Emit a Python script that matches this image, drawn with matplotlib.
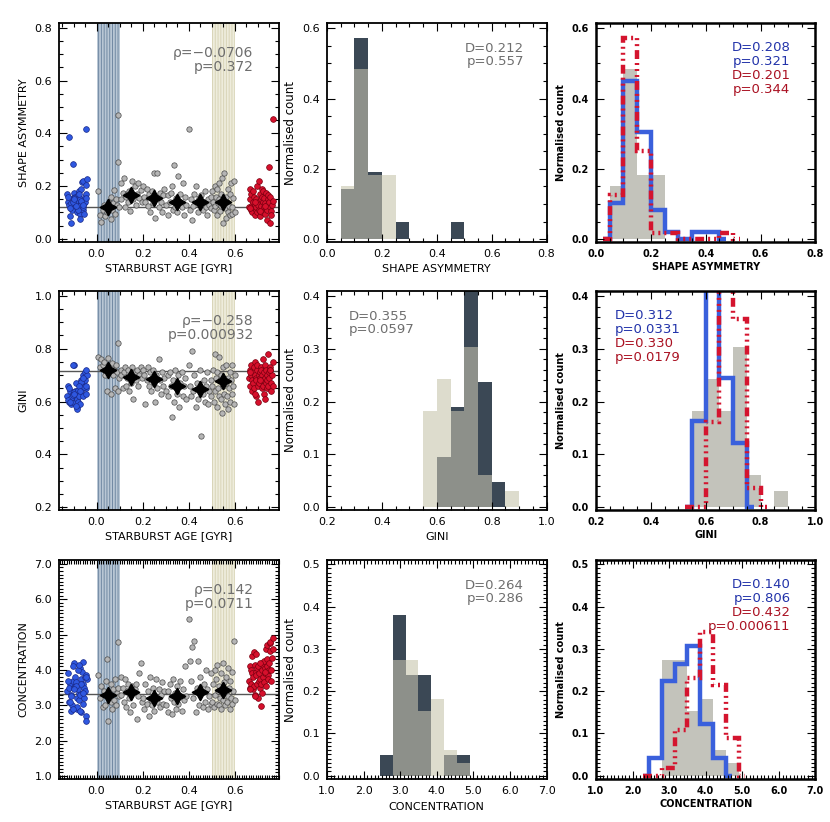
import numpy as np
import matplotlib.pyplot as plt
from matplotlib.ticker import MultipleLocator, FormatStrFormatter

plt.rcParams['font.family'] = 'DejaVu Sans'
plt.rcParams['hatch.linewidth'] = 0.7

# ---------------- scatter data (left column) ----------------
grey_age = [0.008, 0.016, 0.021, 0.027, 0.031, 0.036, 0.041, 0.044, 0.049, 0.056, 0.061,
            0.064, 0.069, 0.073, 0.077, 0.081, 0.084, 0.088, 0.091, 0.094, 0.097,
            0.104, 0.108, 0.113, 0.118, 0.122, 0.127, 0.131, 0.136, 0.141, 0.146,
            0.151, 0.155, 0.160, 0.166, 0.171, 0.176, 0.181, 0.186, 0.191, 0.196,
            0.203, 0.208, 0.212, 0.217, 0.222, 0.226, 0.231, 0.236, 0.241, 0.246,
            0.251, 0.255, 0.260, 0.264, 0.269, 0.274, 0.279, 0.284, 0.289, 0.294,
            0.303, 0.308, 0.312, 0.317, 0.322, 0.326, 0.331, 0.336, 0.341, 0.346,
            0.351, 0.355, 0.360, 0.364, 0.369, 0.374, 0.379, 0.384, 0.389, 0.400,
            0.405, 0.410, 0.415, 0.420, 0.425, 0.430, 0.435, 0.440, 0.445, 0.450,
            0.455, 0.460, 0.465, 0.470, 0.475, 0.480, 0.485, 0.490, 0.495, 0.498,
            0.503, 0.506, 0.509, 0.512, 0.515, 0.518, 0.521, 0.524, 0.527, 0.530, 0.533,
            0.536, 0.539, 0.542, 0.545, 0.548, 0.551, 0.554, 0.557, 0.560, 0.563, 0.566,
            0.569, 0.572, 0.575, 0.578, 0.581, 0.584, 0.587, 0.590, 0.593, 0.596, 0.599]
grey_asym = [0.18, 0.09, 0.065, 0.11, 0.13, 0.085, 0.12, 0.10, 0.125, 0.14, 0.075,
             0.16, 0.11, 0.135, 0.185, 0.095, 0.15, 0.13, 0.29, 0.47, 0.12,
             0.21, 0.15, 0.175, 0.23, 0.12, 0.16, 0.17, 0.14, 0.18, 0.105,
             0.165, 0.22, 0.15, 0.20, 0.13, 0.17, 0.21, 0.155, 0.185, 0.14,
             0.20, 0.16, 0.14, 0.19, 0.125, 0.17, 0.10, 0.155, 0.18, 0.135,
             0.25, 0.08, 0.16, 0.25, 0.12, 0.175, 0.14, 0.10, 0.165, 0.19,
             0.13, 0.165, 0.09, 0.14, 0.175, 0.20, 0.11, 0.28, 0.12, 0.155,
             0.10, 0.24, 0.145, 0.17, 0.12, 0.21, 0.09, 0.16, 0.13, 0.415,
             0.11, 0.15, 0.07, 0.125, 0.17, 0.20, 0.14, 0.10, 0.155, 0.13,
             0.165, 0.11, 0.14, 0.18, 0.12, 0.09, 0.15, 0.13, 0.16, 0.115,
             0.18, 0.14, 0.11, 0.20, 0.125, 0.16, 0.09, 0.19, 0.135, 0.21, 0.15,
             0.105, 0.17, 0.125, 0.23, 0.14, 0.06, 0.25, 0.115, 0.16, 0.08, 0.14,
             0.10, 0.19, 0.125, 0.09, 0.17, 0.21, 0.12, 0.095, 0.155, 0.22, 0.10]
grey_gini = [0.77, 0.73, 0.76, 0.74, 0.75, 0.70, 0.72, 0.64, 0.765, 0.71, 0.73,
             0.63, 0.745, 0.70, 0.72, 0.65, 0.74, 0.71, 0.64, 0.82, 0.69,
             0.72, 0.70, 0.65, 0.71, 0.73, 0.66, 0.69, 0.72, 0.64, 0.70,
             0.67, 0.73, 0.61, 0.71, 0.68, 0.72, 0.66, 0.70, 0.73, 0.69,
             0.72, 0.70, 0.59, 0.68, 0.73, 0.66, 0.71, 0.64, 0.69, 0.72,
             0.67, 0.60, 0.70, 0.65, 0.76, 0.68, 0.63, 0.71, 0.66, 0.69,
             0.64, 0.70, 0.62, 0.71, 0.66, 0.54, 0.68, 0.60, 0.72, 0.65,
             0.63, 0.70, 0.58, 0.67, 0.71, 0.62, 0.66, 0.69, 0.61, 0.74,
             0.66, 0.62, 0.79, 0.64, 0.70, 0.58, 0.67, 0.61, 0.65, 0.72,
             0.47, 0.63, 0.68, 0.60, 0.66, 0.71, 0.59, 0.64, 0.62, 0.68,
             0.66, 0.72, 0.60, 0.78, 0.64, 0.69, 0.58, 0.71, 0.65, 0.62, 0.77,
             0.68, 0.61, 0.70, 0.555, 0.66, 0.73, 0.63, 0.59, 0.67, 0.74, 0.62,
             0.69, 0.57, 0.65, 0.71, 0.60, 0.68, 0.74, 0.63, 0.66, 0.59, 0.70]
grey_conc = [3.85, 3.2, 3.55, 2.95, 3.4, 3.0, 3.7, 4.3, 2.55, 3.3, 3.1,
             3.6, 2.9, 3.45, 3.15, 3.75, 3.0, 3.35, 3.5, 4.8, 3.25,
             3.8, 3.3, 3.5, 3.1, 3.75, 2.95, 3.4, 3.6, 3.2, 2.8,
             3.35, 3.55, 3.0, 3.45, 3.6, 2.6, 3.25, 3.9, 4.2, 3.1,
             3.2, 2.9, 3.6, 3.05, 3.4, 2.7, 3.8, 3.15, 3.0, 3.5,
             2.85, 3.25, 3.75, 3.1, 3.45, 2.95, 3.3, 3.65, 3.05, 3.4,
             3.0, 3.4, 2.8, 3.6, 3.2, 2.75, 3.75, 3.1, 3.35, 2.9,
             3.55, 3.05, 3.3, 3.7, 2.85, 3.45, 3.15, 4.1, 3.25, 5.45,
             4.25, 3.7, 4.65, 3.2, 4.82, 2.8, 3.5, 4.25, 3.0, 3.8,
             3.35, 2.95, 3.6, 3.1, 4.0, 3.45, 2.9, 3.25, 3.9, 3.05,
             3.1, 3.6, 2.95, 4.0, 3.3, 3.75, 3.05, 4.15, 3.4, 3.0, 3.55,
             3.2, 3.9, 2.9, 3.45, 4.2, 3.15, 3.65, 3.0, 3.35, 3.8, 3.1,
             4.05, 3.25, 3.5, 2.9, 3.7, 3.2, 3.95, 3.05, 3.4, 4.83, 3.15]

blue_age = [-0.127, -0.121, -0.116, -0.124, -0.109, -0.113, -0.103, -0.118, -0.098, -0.106,
            -0.092, -0.101, -0.087, -0.095, -0.083, -0.089, -0.078, -0.085, -0.072, -0.080,
            -0.068, -0.075, -0.063, -0.070, -0.058, -0.066, -0.054, -0.061, -0.049, -0.057,
            -0.045, -0.052, -0.042, -0.048, -0.110, -0.096, -0.081, -0.067, -0.053, -0.122,
            -0.104, -0.091, -0.076, -0.060, -0.047, -0.115, -0.099, -0.073, -0.044]
blue_asym = [0.17, 0.385, 0.085, 0.14, 0.12, 0.06, 0.155, 0.13, 0.175, 0.11,
             0.15, 0.285, 0.13, 0.16, 0.10, 0.145, 0.18, 0.12, 0.095, 0.165,
             0.14, 0.125, 0.215, 0.15, 0.11, 0.19, 0.135, 0.22, 0.16, 0.12,
             0.205, 0.14, 0.225, 0.17, 0.135, 0.155, 0.11, 0.145, 0.095, 0.16,
             0.14, 0.125, 0.17, 0.13, 0.155, 0.115, 0.15, 0.075, 0.415]
blue_gini = [0.62, 0.60, 0.64, 0.66, 0.61, 0.59, 0.63, 0.65, 0.74, 0.60,
             0.62, 0.74, 0.58, 0.64, 0.61, 0.67, 0.63, 0.57, 0.65, 0.60,
             0.68, 0.62, 0.66, 0.59, 0.70, 0.64, 0.69, 0.62, 0.71, 0.67,
             0.65, 0.68, 0.70, 0.63, 0.615, 0.635, 0.645, 0.675, 0.655, 0.605,
             0.625, 0.585, 0.66, 0.69, 0.72, 0.60, 0.63, 0.64, 0.66]
blue_conc = [3.4, 3.1, 3.6, 3.9, 3.3, 2.85, 3.7, 3.5, 4.2, 3.0,
             3.55, 4.1, 3.2, 3.8, 2.9, 3.65, 3.35, 2.95, 4.05, 3.45,
             3.75, 3.15, 3.95, 3.3, 3.6, 2.8, 3.5, 4.22, 3.8, 3.05,
             3.85, 3.4, 3.75, 2.7, 3.25, 3.5, 4.0, 3.6, 3.2, 3.7,
             2.9, 3.55, 4.15, 3.35, 3.8, 3.1, 3.45, 2.85, 2.55]

red_age = [0.662, 0.668, 0.665, 0.672, 0.670, 0.676, 0.674, 0.680, 0.678, 0.684,
           0.682, 0.688, 0.686, 0.692, 0.690, 0.696, 0.694, 0.700, 0.698, 0.704,
           0.702, 0.708, 0.706, 0.712, 0.710, 0.716, 0.714, 0.720, 0.718, 0.724,
           0.722, 0.728, 0.726, 0.732, 0.730, 0.736, 0.734, 0.740, 0.738, 0.744,
           0.742, 0.748, 0.746, 0.752, 0.750, 0.756, 0.754, 0.760, 0.758, 0.764,
           0.667, 0.689, 0.711, 0.733, 0.755, 0.766]
red_asym = [0.12, 0.19, 0.15, 0.11, 0.17, 0.13, 0.10, 0.18, 0.14, 0.12,
            0.16, 0.09, 0.13, 0.15, 0.11, 0.20, 0.12, 0.14, 0.10, 0.22,
            0.13, 0.17, 0.11, 0.15, 0.085, 0.19, 0.125, 0.16, 0.10, 0.14,
            0.18, 0.12, 0.155, 0.095, 0.135, 0.115, 0.175, 0.13, 0.07, 0.15,
            0.11, 0.273, 0.165, 0.12, 0.14, 0.105, 0.16, 0.13, 0.09, 0.145,
            0.115, 0.14, 0.105, 0.125, 0.06, 0.455]
red_gini = [0.69, 0.72, 0.66, 0.70, 0.74, 0.68, 0.64, 0.71, 0.67, 0.73,
            0.65, 0.70, 0.75, 0.69, 0.62, 0.72, 0.68, 0.66, 0.74, 0.70,
            0.60, 0.71, 0.67, 0.73, 0.69, 0.65, 0.72, 0.70, 0.68, 0.76,
            0.66, 0.71, 0.63, 0.69, 0.74, 0.67, 0.72, 0.70, 0.65, 0.78,
            0.68, 0.71, 0.66, 0.73, 0.69, 0.64, 0.72, 0.70, 0.67, 0.75,
            0.71, 0.63, 0.68, 0.61, 0.72, 0.66]
red_conc = [3.7, 4.1, 3.5, 4.0, 3.6, 3.9, 4.4, 3.45, 3.8, 4.5,
            3.55, 4.15, 3.3, 3.95, 4.45, 3.6, 3.85, 3.2, 4.05, 3.7,
            4.1, 3.5, 3.9, 2.98, 3.75, 4.2, 3.6, 4.0, 3.35, 4.15,
            3.8, 4.25, 3.65, 4.05, 3.9, 4.6, 3.55, 4.1, 4.3, 3.85,
            4.7, 4.0, 3.75, 4.55, 4.2, 3.7, 4.75, 4.35, 4.0, 4.6,
            3.45, 3.25, 4.2, 3.95, 4.8, 4.9]

# binned medians (black stars) and reference levels
bin_mid = [0.05, 0.15, 0.25, 0.35, 0.45, 0.55]
asym_med = [0.120, 0.165, 0.155, 0.140, 0.138, 0.140]
gini_med = [0.720, 0.693, 0.686, 0.657, 0.647, 0.676]
conc_med = [3.30, 3.38, 3.20, 3.27, 3.38, 3.43]
asym_ref, gini_ref, conc_ref = 0.120, 0.717, 3.32

# ---------------- histogram data (middle / right columns) ----------------
# shape asymmetry: bins of 0.05 starting at 0.05
asym_start, asym_w = 0.05, 0.05
asym_young = [0.143, 0.571, 0.190, 0.0, 0.048, 0.0, 0.0, 0.0, 0.048]
asym_old = [0.152, 0.485, 0.182, 0.182, 0.0, 0.0, 0.0, 0.0, 0.0]
asym_blue = [0.102, 0.449, 0.306, 0.082, 0.020, 0.0, 0.020, 0.020]
asym_red = [0.125, 0.571, 0.250, 0.018, 0.018, 0.0, 0.0, 0.0, 0.018]
# gini: bins of 0.05 starting at 0.55
gini_start, gini_w = 0.55, 0.05
gini_young = [0.0, 0.095, 0.190, 0.429, 0.238, 0.048, 0.0]
gini_old = [0.182, 0.242, 0.182, 0.303, 0.061, 0.0, 0.030]
gini_blue = [0.163, 0.469, 0.245, 0.122]
gini_red = [0.0, 0.161, 0.446, 0.357, 0.036]
# concentration: bins of 0.35 starting at 2.45
conc_start, conc_w = 2.45, 0.35
conc_young = [0.048, 0.381, 0.238, 0.238, 0.0, 0.048, 0.048]
conc_old = [0.0, 0.273, 0.273, 0.152, 0.182, 0.061, 0.030]
conc_blue = [0.041, 0.224, 0.265, 0.306, 0.122, 0.041]
conc_red = [0.0, 0.018, 0.107, 0.232, 0.339, 0.214, 0.089]

ks_mid = [('D=0.212', 'p=0.557'), ('D=0.355', 'p=0.0597'), ('D=0.264', 'p=0.286')]
ks_right = [('D=0.208', 'p=0.321', 'D=0.201', 'p=0.344'),
            ('D=0.312', 'p=0.0331', 'D=0.330', 'p=0.0179'),
            ('D=0.140', 'p=0.806', 'D=0.432', 'p=0.000611')]
rho_txt = ['\u03c1=\u22120.0706\np=0.372', '\u03c1=\u22120.258\np=0.000932', '\u03c1=0.142\np=0.0711']

DARK = '#3b4855'
LIGHT = '#dddccd'
MIXED = '#8d908a'
FILLGREY = '#c3c3bb'
BLUE = '#3a60dc'
RED = '#d4142e'
TXTGREY = '#6e6e6e'
RED_DASH = (0, (2.0, 0.9, 0.45, 0.9, 0.45, 0.9, 0.45, 0.9))


def style_axes(ax, xlim, ylim, xmaj, xmin, ymaj, ymin, bold=False, lw=1.3, size=8):
    ax.set_xlim(*xlim)
    ax.set_ylim(*ylim)
    ax.xaxis.set_major_locator(MultipleLocator(xmaj))
    ax.xaxis.set_minor_locator(MultipleLocator(xmin))
    ax.yaxis.set_major_locator(MultipleLocator(ymaj))
    ax.yaxis.set_minor_locator(MultipleLocator(ymin))
    ax.xaxis.set_major_formatter(FormatStrFormatter('%.1f'))
    ax.yaxis.set_major_formatter(FormatStrFormatter('%.1f'))
    ax.tick_params(which='both', direction='in', top=True, right=True, width=0.8,
                   labelsize=size)
    ax.tick_params(which='major', length=6, pad=5)
    ax.tick_params(which='minor', length=3)
    for s in ax.spines.values():
        s.set_linewidth(lw)
    if bold:
        plt.setp(ax.get_xticklabels() + ax.get_yticklabels(), fontweight='bold')


def scatter_panel(ax, gy, by, ry, med, ref, txt):
    ax.axvspan(0.0, 0.1, facecolor='#b9c7d5', edgecolor='#7189a3', hatch='||||||',
               lw=0, zorder=0)
    ax.axvspan(0.5, 0.6, facecolor='#eeecdc', edgecolor='#d9d5b8', hatch='||||||',
               lw=0, zorder=0)
    ax.axhline(ref, color='#555555', lw=1.0, zorder=1)
    ax.text(0.886, 0.895, txt, transform=ax.transAxes, ha='right', va='top',
            fontsize=10, color=TXTGREY, linespacing=1.0, zorder=1)
    ax.scatter(grey_age, gy, s=15, c='#b5b5b5', edgecolors='#4a4a4a', linewidths=0.5, zorder=2)
    ax.scatter(blue_age, by, s=17, c='#2f58e0', edgecolors='#1a2a8a', linewidths=0.5, zorder=2)
    ax.scatter(red_age, ry, s=17, c='#d6102c', edgecolors='#7a0010', linewidths=0.5, zorder=2)
    ax.plot(bin_mid, med, ls='none', marker=(4, 1, 0), ms=12, color='k', zorder=4)
    ax.set_xlabel('STARBURST AGE [GYR]', fontsize=8, labelpad=3)


def mid_panel(ax, start, w, young, old, ks, right_align):
    young = np.array(young)
    old = np.array(old)
    n = max(len(young), len(old))
    young = np.pad(young, (0, n - len(young)))
    old = np.pad(old, (0, n - len(old)))
    left = start + w * np.arange(n)
    both = np.minimum(young, old)
    ax.bar(left, both, width=w, align='edge', color=MIXED, lw=0)
    ax.bar(left, young - both, bottom=both, width=w, align='edge', color=DARK, lw=0)
    ax.bar(left, old - both, bottom=both, width=w, align='edge', color=LIGHT, lw=0)
    x, ha = (0.897, 'right') if right_align else (0.101, 'left')
    ax.text(x, 0.915, ks[0] + '\n' + ks[1], transform=ax.transAxes, ha=ha, va='top',
            fontsize=9.5, color=TXTGREY, linespacing=1.05)
    ax.set_ylabel('Normalised count', fontsize=8.5)


def step_line(ax, start, w, vals, color, ls):
    vals = np.concatenate([[0.0], vals, [0.0]])
    edges = start + w * np.arange(len(vals) - 1)
    edges = np.concatenate([[start - 0.5 * w], edges, [edges[-1] + 0.5 * w]])
    ax.stairs(vals, edges, color=color, lw=3.2, ls=ls, baseline=None)


def right_panel(ax, start, w, old, bstart, blue, rstart, red, ks, right_align, xlabel):
    left = start + w * np.arange(len(old))
    ax.bar(left, old, width=w, align='edge', color=FILLGREY, lw=0)
    step_line(ax, bstart, w, blue, BLUE, '-')
    step_line(ax, rstart, w, red, RED, RED_DASH)
    x, ha = (0.886, 'right') if right_align else (0.086, 'left')
    cols = ['#2233aa', '#2233aa', '#aa1122', '#aa1122']
    for i, (t, c) in enumerate(zip(ks, cols)):
        ax.text(x, 0.918 - i * 0.064, t, transform=ax.transAxes, ha=ha, va='top',
                fontsize=9.5, color=c)
    ax.set_ylabel('Normalised count', fontsize=7, fontweight='bold')
    ax.set_xlabel(xlabel, fontsize=7, fontweight='bold', labelpad=2)


fig = plt.figure(figsize=(8.30, 8.22), dpi=100)
col_left = [0.0711, 0.394, 0.718]
row_bottom = [0.7056, 0.3796, 0.0523]
W, H = 0.2645, 0.2664
axes = [[fig.add_axes([cl, rb, W, H]) for cl in col_left] for rb in row_bottom]

# row 1: shape asymmetry
ax = axes[0][0]
scatter_panel(ax, grey_asym, blue_asym, red_asym, asym_med, asym_ref, rho_txt[0])
ax.set_ylabel('SHAPE ASYMMETRY', fontsize=8)
style_axes(ax, (-0.163, 0.79), (-0.012, 0.818), 0.2, 0.05, 0.2, 0.05)
ax = axes[0][1]
mid_panel(ax, asym_start, asym_w, asym_young, asym_old, ks_mid[0], True)
ax.set_xlabel('SHAPE ASYMMETRY', fontsize=8)
style_axes(ax, (0.0, 0.8), (-0.008, 0.615), 0.2, 0.05, 0.2, 0.05)
ax = axes[0][2]
right_panel(ax, asym_start, asym_w, asym_old, asym_start, asym_blue, asym_start, asym_red,
            ks_right[0], True, 'SHAPE ASYMMETRY')
style_axes(ax, (0.0, 0.8), (-0.008, 0.615), 0.2, 0.05, 0.2, 0.05, bold=True, lw=1.8, size=7)

# row 2: gini
ax = axes[1][0]
scatter_panel(ax, grey_gini, blue_gini, red_gini, gini_med, gini_ref, rho_txt[1])
ax.set_ylabel('GINI', fontsize=8)
style_axes(ax, (-0.163, 0.79), (0.19, 1.018), 0.2, 0.05, 0.2, 0.05)
ax = axes[1][1]
mid_panel(ax, gini_start, gini_w, gini_young, gini_old, ks_mid[1], False)
ax.set_xlabel('GINI', fontsize=8)
style_axes(ax, (0.2, 1.0), (-0.006, 0.41), 0.2, 0.05, 0.1, 0.02)
ax = axes[1][2]
right_panel(ax, gini_start, gini_w, gini_old, gini_start, gini_blue, gini_start, gini_red,
            ks_right[1], False, 'GINI')
style_axes(ax, (0.2, 1.0), (-0.006, 0.41), 0.2, 0.05, 0.1, 0.02, bold=True, lw=1.8, size=7)

# row 3: concentration
ax = axes[2][0]
scatter_panel(ax, grey_conc, blue_conc, red_conc, conc_med, conc_ref, rho_txt[2])
ax.set_ylabel('CONCENTRATION', fontsize=8)
style_axes(ax, (-0.163, 0.79), (0.915, 7.11), 0.2, 0.01, 1.0, 0.1)
ax = axes[2][1]
mid_panel(ax, conc_start, conc_w, conc_young, conc_old, ks_mid[2], True)
ax.set_xlabel('CONCENTRATION', fontsize=8)
style_axes(ax, (1.0, 7.0), (-0.008, 0.51), 1.0, 0.1, 0.1, 0.01)
ax = axes[2][2]
right_panel(ax, conc_start, conc_w, conc_old, conc_start, conc_blue, conc_start, conc_red,
            ks_right[2], True, 'CONCENTRATION')
style_axes(ax, (1.0, 7.0), (-0.008, 0.51), 1.0, 0.1, 0.1, 0.01, bold=True, lw=1.8, size=7)

fig.savefig('out.png', dpi=100)
